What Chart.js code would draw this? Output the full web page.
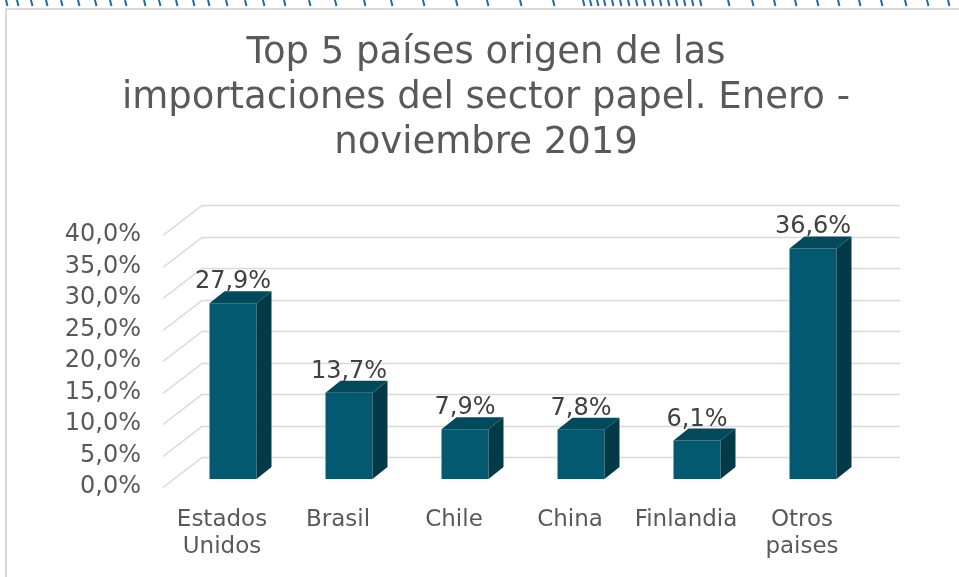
<!DOCTYPE html>
<html><head><meta charset="utf-8">
<script src="https://cdn.jsdelivr.net/npm/chart.js@4.4.0/dist/chart.umd.min.js"></script>
<style>html,body{margin:0;padding:0;background:#fff;} canvas{display:block;}</style>
</head><body>
<canvas id="c" width="959" height="577"></canvas>
<script>
const categories = [["Estados","Unidos"],"Brasil","Chile","China","Finlandia",["Otros","paises"]];
const shares = [27.9, 13.7, 7.9, 7.8, 6.1, 36.6];
const titleLines = ["Top 5 países origen de las","importaciones del sector papel. Enero -","noviembre 2019"];
const yMin = 0, yMax = 40, yStep = 5;

const FONT = "'DejaVu Sans', Verdana, sans-serif";
const FRONT = '#03596f', SIDE = '#023a48', TOP = '#03495c';
const DX = 11, DY = -8;           // bar plane offset from front wall plane
const DEPTH_X = 15, DEPTH_Y = -12; // bar depth
const WALL_X = 39, WALL_Y = -30;   // wall depth
const decoX = [6,17,31,46,61,78,95,110,125,144,159,176,193,208,226,245,263,284,309,335,364,391,423,456,487,520,553,
  583,590,597,604,612,620,628,636,644,652,660,668,676,684,692,700,728,752,774,795,817,838,859,881,905,927,948];
const fmt = v => v.toFixed(1).replace('.', ',') + '%';

const plugin3d = {
  id: 'plugin3d',
  beforeDraw(chart) {
    const ctx = chart.ctx;
    ctx.save();
    ctx.fillStyle = '#fff';
    ctx.fillRect(0, 0, chart.width, chart.height);
    ctx.strokeStyle = '#d9d9d9';
    ctx.lineWidth = 2;
    ctx.beginPath(); ctx.moveTo(6, 577); ctx.lineTo(6, 9); ctx.lineTo(959, 9); ctx.stroke();
    ctx.strokeStyle = '#1f6aa8';
    ctx.lineWidth = 2;
    decoX.forEach(x => { ctx.beginPath(); ctx.moveTo(x, 0); ctx.lineTo(x + 1.5, 6); ctx.stroke(); });
    ctx.restore();
  },
  beforeDatasetsDraw(chart) {
    const { ctx, chartArea: a, scales: { y } } = chart;
    ctx.save();
    ctx.strokeStyle = '#d9d9d9';
    ctx.lineWidth = 1.5;
    y.ticks.forEach(t => {
      const py = Math.round(y.getPixelForValue(t.value)) + 0.5;
      ctx.beginPath();
      ctx.moveTo(a.left - 1, py);
      ctx.lineTo(a.left - 1 + WALL_X, py + WALL_Y);
      ctx.lineTo(a.right + 40, py + WALL_Y);
      ctx.stroke();
    });
    ctx.restore();
    ctx.save();
    ctx.translate(DX, DY);
  },
  afterDatasetsDraw(chart) {
    const ctx = chart.ctx;
    const meta = chart.getDatasetMeta(0);
    meta.data.forEach((bar, i) => {
      const { x, y, base, width } = bar.getProps(['x', 'y', 'base', 'width'], true);
      const l = x - width / 2, r = x + width / 2;
      ctx.fillStyle = SIDE;
      ctx.beginPath();
      ctx.moveTo(r, y); ctx.lineTo(r + DEPTH_X, y + DEPTH_Y);
      ctx.lineTo(r + DEPTH_X, base + DEPTH_Y); ctx.lineTo(r, base);
      ctx.closePath(); ctx.fill();
      ctx.fillStyle = TOP;
      ctx.beginPath();
      ctx.moveTo(l, y); ctx.lineTo(l + DEPTH_X, y + DEPTH_Y);
      ctx.lineTo(r + DEPTH_X, y + DEPTH_Y); ctx.lineTo(r, y);
      ctx.closePath(); ctx.fill();
      ctx.fillStyle = '#404040';
      ctx.font = '24px ' + FONT;
      ctx.textAlign = 'center';
      ctx.textBaseline = 'alphabetic';
      ctx.fillText(fmt(shares[i]), x, y - 15);
    });
    ctx.restore();
  }
};

new Chart(document.getElementById('c'), {
  type: 'bar',
  data: {
    labels: categories,
    datasets: [{ data: shares, backgroundColor: FRONT, borderWidth: 0, barPercentage: 0.405, categoryPercentage: 1 }]
  },
  options: {
    responsive: false,
    animation: false,
    layout: { padding: { left: 13, right: 0, top: 0, bottom: 0 } },
    plugins: {
      legend: { display: false },
      tooltip: { enabled: false },
      title: {
        display: true,
        text: titleLines,
        color: '#595959',
        font: { family: FONT, size: 37, weight: 'normal', lineHeight: 45 / 37 },
        padding: { top: 31, bottom: 69 }
      }
    },
    scales: {
      x: {
        grid: { display: false, drawTicks: false },
        border: { display: false },
        ticks: { color: '#595959', font: { family: FONT, size: 23 }, padding: 19, maxRotation: 0, autoSkip: false },
        afterFit: s => { s.height = 90; }
      },
      y: {
        min: yMin, max: yMax,
        grid: { display: false, drawTicks: false },
        border: { display: false },
        ticks: { stepSize: yStep, autoSkip: false, callback: v => fmt(v), color: '#595959', font: { family: FONT, size: 24 }, padding: 23 },
        afterFit: s => { s.width = 151; }
      },
      y2: {
        type: 'linear', position: 'right', display: true,
        grid: { display: false, drawTicks: false },
        border: { display: false },
        ticks: { display: false },
        afterFit: s => { s.width = 99; }
      }
    }
  },
  plugins: [plugin3d]
});
</script>
</body></html>
